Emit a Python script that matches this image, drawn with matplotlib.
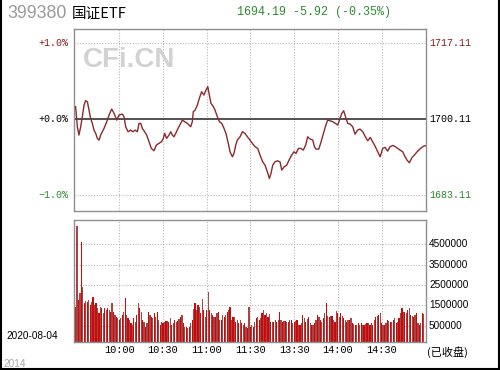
import matplotlib
matplotlib.use('Agg')
import matplotlib.pyplot as plt
from matplotlib.lines import Line2D
import matplotlib.transforms as mtransforms

plt.rcParams['font.family'] = ['DejaVu Sans', 'Noto Sans CJK SC']

# ---------------- data ----------------
code = '399380'
name = '国证ETF'
quote_text = '1694.19 -5.92 (-0.35%)'
prev_close = 1700.11
upper_price = 1717.11
lower_price = 1683.11
pct_labels = ['+1.0%', '+0.0%', '\u22121.0%']
price_labels = ['1717.11', '1700.11', '1683.11']
time_ticks = [30, 60, 90, 120, 150, 180, 210]
time_labels = ['10:00', '10:30', '11:00', '11:30', '13:30', '14:00', '14:30']
vol_ticks = [500000, 1500000, 2500000, 3500000, 4500000]
vol_tick_labels = ['500000', '1500000', '2500000', '3500000', '4500000']
date_text = '2020-08-04'
status_text = '(已收盘)'
watermark = 'CFi.CN'
year_text = '2014'

# minutes since 9:30 (trading minutes, lunch break removed)
price_minutes = [
    0, 1.2, 2.3, 3.5, 4.6, 5.8, 6.9, 8.1, 9.2, 10.3, 11.5, 12.6, 13.8, 14.9, 16.1, 17.2,
    19.5, 21.8, 23.4, 24.8, 26.4, 28.2, 29.8, 32.1, 33.2, 34.4, 36.0, 37.8, 39.4, 40.8,
    42.4, 43.5, 44.7, 45.8, 47.4, 48.8, 50.4, 52.0, 53.8, 55.4, 57.2, 58.9, 60.2, 61.1,
    62.5, 64.1, 65.3, 66.4, 67.5, 68.7, 70.3, 72.1, 73.3, 74.9, 76.7, 79.0, 80.1, 80.8,
    82.0, 83.6, 84.9, 86.5, 88.1, 89.5, 90.7, 91.8, 92.9, 94.6, 95.7, 97.3, 98.7, 100.3,
    101.4, 103.2, 104.8, 106.0, 107.6, 108.7, 109.9, 111.0, 112.9, 114.5, 116.3, 117.9,
    119.7, 121.3, 123.2, 125.0, 126.6, 128.4, 130.0, 131.6, 133.0, 134.1, 135.3, 136.9,
    138.5, 140.3, 141.5, 143.1, 144.9, 146.5, 148.3, 149.9, 151.3, 152.9, 154.7, 156.3,
    157.9, 159.3, 160.4,
    161.6, 162.8, 163.9, 165.0, 166.9, 168.5, 170.1, 171.4, 173.0, 174.6, 176.5, 178.3,
    179.9, 181.1, 182.7, 184.0, 185.6, 186.8, 188.4, 190.2, 191.8, 193.6, 195.2, 197.1,
    198.9, 200.5, 202.3, 203.9, 205.5, 207.4, 209.0, 210.8, 212.4, 214.2, 215.8, 217.7,
    219.5, 221.1, 222.7, 224.5, 226.1, 227.5, 229.1, 230.9, 232.5, 234.4, 236.0, 237.6,
    239.4, 240,
]
price_values = [
    1702.94, 1698.47, 1696.61, 1698.47, 1700.71, 1703.32, 1704.29, 1704.06, 1702.20, 1700.33,
    1699.22, 1697.72, 1696.98, 1695.86, 1695.49, 1696.61, 1698.10, 1699.96, 1701.45, 1702.42,
    1701.45, 1699.96, 1701.08, 1701.30, 1700.71, 1698.47, 1697.35, 1697.72, 1697.35, 1697.72,
    1697.35, 1699.22, 1699.22, 1698.10, 1697.35, 1696.61, 1695.11, 1693.62, 1693.10, 1694.37,
    1694.74, 1695.11, 1695.86, 1696.98, 1695.86, 1696.61, 1697.35, 1696.61, 1696.23, 1696.98,
    1698.10, 1699.22, 1699.96, 1699.59, 1699.22, 1698.47, 1699.59, 1701.82,
    1702.20, 1703.32, 1704.81, 1706.30, 1705.55, 1706.67, 1707.42, 1705.55, 1703.69, 1702.94,
    1702.20, 1700.71, 1699.59, 1699.22, 1698.47, 1696.98, 1694.74, 1692.88, 1691.76, 1692.50,
    1694.37, 1695.49, 1696.23, 1697.35, 1696.98, 1696.23, 1695.49, 1694.74, 1694.00, 1693.62,
    1692.13, 1690.64, 1689.89, 1688.40, 1686.91, 1688.03, 1689.89, 1690.64, 1690.86, 1690.64,
    1688.78, 1689.52, 1689.89, 1691.01, 1692.13, 1692.88, 1692.50, 1693.62, 1693.62, 1693.25,
    1694.37, 1696.23, 1695.86,
    1695.64, 1695.49, 1694.00, 1693.47, 1693.47, 1695.11, 1696.98, 1698.47, 1699.96, 1699.81,
    1699.59, 1699.22, 1698.84, 1699.96, 1701.45, 1702.05, 1700.33, 1699.22, 1699.07, 1698.47,
    1696.83, 1697.72, 1697.95, 1697.35, 1696.23, 1695.34, 1696.08, 1695.11, 1694.15, 1692.88,
    1691.76, 1693.62, 1693.85, 1693.03, 1694.00, 1694.29, 1694.00, 1693.62, 1693.25, 1692.88,
    1691.76, 1691.01, 1690.42, 1691.61, 1692.13, 1692.88, 1693.40, 1693.85, 1694.22, 1694.19,
]

# per-minute volume, in thousands
volume_k = [
    1430, 5420, 1760, 2080, 4600, 2410, 1600, 1700, 1670, 1750,
    1510, 1670, 1920, 1510, 1600, 1340, 1100, 1430, 1340, 1100,
    1340, 1260, 1340, 1260, 1180, 1590, 1180, 1020, 940, 860,
    780, 860, 1020, 1180, 1840, 1020, 860, 780, 610, 530,
    860, 690, 1020, 1590, 1340, 1180, 780, 690, 450, 610,
    1180, 1020, 940, 860, 1100, 940, 1180, 780, 530, 690,
    600, 690, 720, 720, 690,
    860, 520, 610, 770, 690, 720, 810, 940, 1020, 610,
    440, 410, 360, 440, 600, 770, 1300, 1590, 1260, 1510,
    1430, 1100, 1790, 1260, 940, 1260, 2170, 1260, 1100, 1020,
    900, 940, 1100, 1180, 770, 770, 1020, 940, 1000, 1180,
    1260, 1390, 770, 940, 940, 690, 750, 610, 770, 610,
    520, 610, 440, 360, 1430,
    440, 520, 440, 690, 860, 940, 770, 850,
    1100, 1260, 1020, 1100, 940, 1070, 690, 690,
    690, 770, 690, 770, 1180, 770, 690, 700,
    720, 690, 690, 770, 770, 610, 690, 730,
    770, 520, 520, 610, 1020, 860, 690, 800,
    940, 610, 520, 520, 610, 770, 1020, 900,
    770, 690, 860, 1100, 1620, 970, 940, 960,
    970, 770, 690, 1230, 1100, 940, 1100, 980,
    860, 770, 690, 770, 770, 860, 610, 560,
    520, 520, 610, 520, 610, 520, 520, 560,
    610, 640, 520, 610, 520, 770, 940, 980,
    1020, 1100, 610, 520, 520, 610, 770, 730,
    690, 690, 770, 860, 610, 690, 860, 1100,
    1350, 1180, 1180, 1100, 1260, 1350, 1020, 980,
    940, 1020, 1140, 610, 520, 610, 1100, 1050,
]
volumes = [v * 1000 for v in volume_k]
bar_minutes = list(range(len(volumes)))

# ---------------- layout ----------------
W, H = 500, 370
fig = plt.figure(figsize=(W / 100, H / 100), dpi=100)
fig.patch.set_facecolor('white')

MONO = ['Liberation Mono', 'DejaVu Sans Mono']
SANS = ['Liberation Sans', 'DejaVu Sans']
CJK = ['Noto Sans CJK SC', 'DejaVu Sans']
RED_TXT = '#8b1a1a'
GREEN_TXT = '#2f8a2f'
FRAME = '#8f8f8f'
GRID = '#b8b8b8'

ax1 = fig.add_axes([74 / W, 1 - 210.7 / H, 352 / W, (210.7 - 29) / H])
ax2 = fig.add_axes([74 / W, 1 - 342 / H, 352 / W, (342 - 220) / H])

XL = (-1.1, 240.5)
for ax in (ax1, ax2):
    ax.set_xlim(*XL)
    for s in ax.spines.values():
        s.set_color(FRAME)
        s.set_linewidth(1.0)
    for t in time_ticks:
        ax.axvline(t, color=GRID, lw=0.8, ls=(0, (1, 1.5)), zorder=0)

# ---- price panel ----
ax1.set_ylim(prev_close - 20.4, prev_close + 20.2)
ax1.axhline(upper_price, color=GRID, lw=0.8, ls=(0, (1, 1.5)), zorder=0)
ax1.axhline(lower_price, color=GRID, lw=0.8, ls=(0, (1, 1.5)), zorder=0)
ax1.axhline(prev_close, color='#222222', lw=1.1, zorder=1)
ax1.plot(price_minutes, price_values, color='#8b2a2a', lw=1.0, zorder=3)
ax1.set_xticks([])
ax1.set_yticks([])

bt1 = mtransforms.blended_transform_factory(ax1.transAxes, ax1.transData)
lab_cols = [RED_TXT, 'black', GREEN_TXT]
for lv, pl, rl, c in zip([upper_price, prev_close, lower_price], pct_labels, price_labels, lab_cols):
    ax1.text(-6 / 352, lv, pl, transform=bt1, ha='right', va='center',
             family=MONO, fontsize=7.2, color=c)
    ax1.text(1 + 3 / 352, lv, rl, transform=bt1, ha='left', va='center',
             family=MONO, fontsize=7.2, color=c)

ax1.text(9 / 352, 1 - (60 - 29) / (210.7 - 29), watermark, transform=ax1.transAxes,
         ha='left', va='center', fontsize=20, fontweight='bold',
         family=SANS, color='#d2d2d2', zorder=0)

# ---- volume panel ----
VOL_LO, VOL_HI = -313000, 5700000
ax2.set_ylim(VOL_LO, VOL_HI)
for v in vol_ticks:
    ax2.axhline(v, color=GRID, lw=0.8, ls=(0, (1, 1.5)), zorder=0)
bar_cols = ['#c80a0a' if i % 2 == 0 else '#a84444' for i in range(len(volumes))]
ax2.bar(bar_minutes, [v - VOL_LO for v in volumes], bottom=VOL_LO, width=0.82,
        color=bar_cols, linewidth=0, zorder=2)
ax2.set_yticks([])
ax2.set_xticks(time_ticks)
ax2.set_xticklabels(time_labels, family=MONO, fontsize=7.4)
ax2.tick_params(axis='x', length=0, pad=2)

bt2 = mtransforms.blended_transform_factory(ax2.transAxes, ax2.transData)
for v, l in zip(vol_ticks, vol_tick_labels):
    ax2.text(1 + 3 / 352, v, l, transform=bt2, ha='left', va='center',
             family=SANS, fontsize=7.2, color='black')

# ---- header & other texts ----
def ftext(x, y, s, **kw):
    fig.text(x / W, 1 - y / H, s, **kw)

ftext(7, 13.5, code, ha='left', va='center', fontsize=12.8, family=SANS, color='#9a9a9a')
ftext(72, 13.5, name, ha='left', va='center', fontsize=10.5, family=CJK, color='black')
ftext(237, 12.5, quote_text, ha='left', va='center', fontsize=8.4, family=MONO, color=GREEN_TXT)
ftext(6, 336, date_text, ha='left', va='center', fontsize=7.2, family=SANS, color='black')
ftext(427, 352, status_text, ha='left', va='center', fontsize=8, family=CJK, color='black')
ftext(3, 364, year_text, ha='left', va='center', fontsize=7.2, family=SANS, color='#a8a8a8')

# figure border (left, right, bottom)
for xs, ys in [([0.5 / W, 0.5 / W], [0, 1]), ([1 - 1.5 / W, 1 - 1.5 / W], [0, 1]),
               ([0, 1], [1.5 / H, 1.5 / H])]:
    fig.add_artist(Line2D(xs, ys, color='black', lw=1.5, transform=fig.transFigure))

fig.savefig('out.png', dpi=100, facecolor='white')
